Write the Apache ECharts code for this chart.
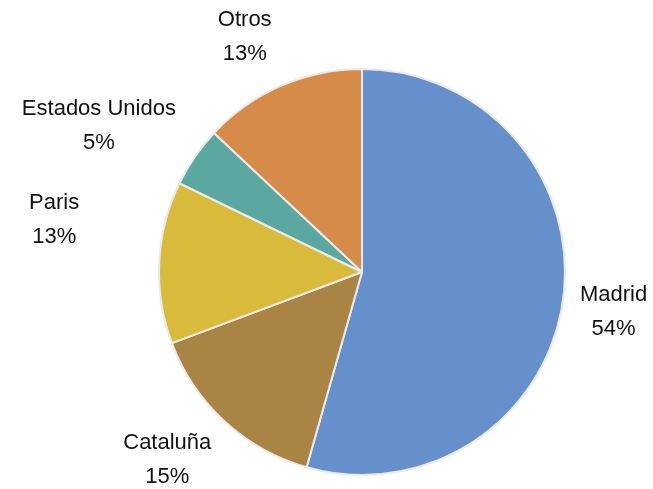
<!DOCTYPE html>
<html>
<head>
<meta charset="utf-8">
<script src="https://cdn.jsdelivr.net/npm/echarts@6/dist/echarts.min.js"></script>
<style>
  html, body { margin: 0; padding: 0; background: #fff; }
  #chart { width: 653px; height: 489px; }
</style>
</head>
<body>
<div id="chart"></div>
<script>
// slices clockwise from 12 o'clock
const regions = ['Madrid', 'Cataluña', 'Paris', 'Estados Unidos', 'Otros']
const shares = [54.4, 14.9, 12.9, 4.8, 13.0]
const colors = ['#6690CC', '#AA8442', '#D8BB3A', '#5BA8A0', '#D68C48']
// small nudges for the label blocks (Excel-like placement)
const labelNudge = [[0, 10], [0, 30], [-63, -42], [-4, -24], [0, -38]]

const chart = echarts.init(document.getElementById('chart'))
chart.setOption({
  animation: false,
  color: colors,
  series: [{
    type: 'pie',
    center: [362, 272],
    radius: 203,
    startAngle: 90,
    clockwise: true,
    percentPrecision: 0,
    itemStyle: {
      borderColor: '#EAEAEA',
      borderWidth: 2
    },
    label: {
      show: true,
      position: 'outside',
      formatter: '{b}\n{d}%',
      fontFamily: 'Liberation Sans, Arial, sans-serif',
      fontSize: 22,
      lineHeight: 34,
      color: '#111',
      overflow: 'none'
    },
    labelLine: { show: false, length: 12, length2: 0 },
    labelLayout: function (p) {
      const r = p.labelRect
      const n = labelNudge[p.dataIndex]
      return {
        x: r.x + r.width / 2 + n[0],
        y: r.y + r.height / 2 + n[1],
        align: 'center',
        verticalAlign: 'middle'
      }
    },
    data: regions.map((name, i) => ({ name, value: shares[i] }))
  }]
})
</script>
</body>
</html>
